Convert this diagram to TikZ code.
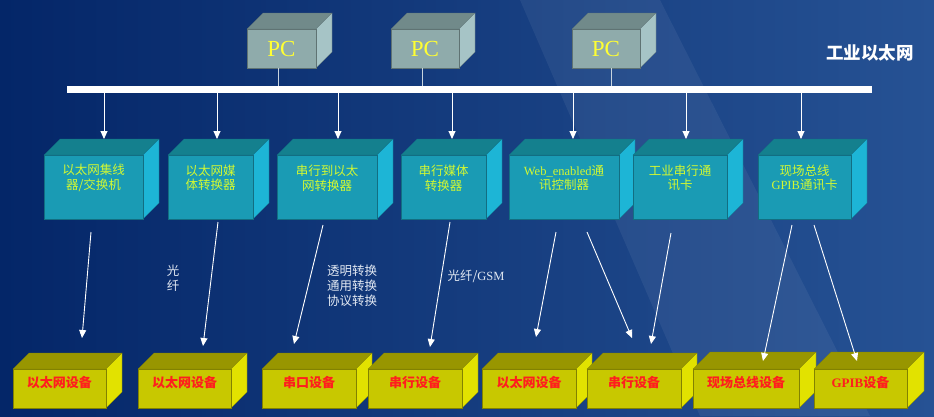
\documentclass[tikz,border=0pt]{standalone}
\usepackage{fontspec}
\setmainfont{Liberation Serif}
\newfontfamily\cjk{Noto Sans CJK SC}
\newfontfamily\lat{Liberation Serif}
\usetikzlibrary{arrows.meta,calc}
\definecolor{bgL}{RGB}{4,38,104}
\definecolor{bgR}{RGB}{38,82,148}
\definecolor{pcFront}{RGB}{143,171,171}
\definecolor{pcTop}{RGB}{113,138,138}
\definecolor{pcSide}{RGB}{166,196,198}
\definecolor{pcEdge}{RGB}{95,115,115}
\definecolor{blFront}{RGB}{26,155,180}
\definecolor{blTop}{RGB}{20,128,142}
\definecolor{blSide}{RGB}{29,181,214}
\definecolor{blEdge}{RGB}{18,110,130}
\definecolor{yeFront}{RGB}{200,200,0}
\definecolor{yeTop}{RGB}{152,150,0}
\definecolor{yeSide}{RGB}{226,226,0}
\definecolor{yeEdge}{RGB}{130,130,0}
\definecolor{btextcol}{RGB}{210,248,50}
\definecolor{redtext}{RGB}{255,30,30}
\definecolor{pctext}{RGB}{255,255,50}
\definecolor{labcol}{RGB}{225,232,242}
\newcommand\cubebox[7]{%
  \path[fill=#7Top, draw=#7Edge, line width=0.3pt] (#2,#3) -- (#2+#6,#3-#6) -- (#2+#4+#6,#3-#6) -- (#2+#4,#3) -- cycle;
  \path[fill=#7Side, draw=#7Edge, line width=0.3pt] (#2+#4,#3) -- (#2+#4+#6,#3-#6) -- (#2+#4+#6,#3+#5-#6) -- (#2+#4,#3+#5) -- cycle;
  \node[fill=#7Front, draw=#7Edge, line width=0.3pt, anchor=north west, minimum width=#4pt, minimum height=#5pt, inner sep=0pt, outer sep=0pt] (#1) at (#2,#3) {};%
}
\tikzset{
  arr/.style={draw=white, line width=0.9pt, -{Triangle[width=7pt,length=8pt]}},
  pcline/.style={draw={rgb,255:red,200;green,212;blue,222}, line width=1pt},
  btext/.style={font=\cjk\fontsize{12.5}{14.5}\selectfont, text=btextcol, align=center, inner sep=0pt},
  ytext/.style={font=\cjk\bfseries\fontsize{13}{15}\selectfont, text=redtext, inner sep=0pt},
  lab/.style={font=\cjk\fontsize{12.5}{14.8}\selectfont, text=labcol, align=center, inner sep=0pt},
  pctxt/.style={font=\lat\fontsize{23}{26}\selectfont, text=pctext, inner sep=0pt}
}
\begin{document}
\begin{tikzpicture}[x=1pt,y=-1pt]
\useasboundingbox (0,0) rectangle (934,416);
\shade[left color=bgL, right color=bgR] (0,0) rectangle (934,416);
\fill[white, opacity=0.06] (520,0) -- (660,0) -- (870,416) -- (700,416) -- cycle;

% PCs
\cubebox{pc1}{247}{29}{69}{39}{16}{pc}
\node[pctxt] (pc1t) at (pc1.center) {PC};
\cubebox{pc2}{391}{29}{68}{39}{16}{pc}
\node[pctxt] (pc2t) at (pc2.center) {PC};
\cubebox{pc3}{572}{29}{68}{39}{16}{pc}
\node[pctxt] (pc3t) at (pc3.center) {PC};

% bus
\node[fill=white, anchor=north west, minimum width=805pt, minimum height=7pt, inner sep=0pt, outer sep=0pt] (bus) at (67,86) {};
\node[font=\cjk\bfseries\fontsize{17.5}{20}\selectfont, text=white, inner sep=0pt] (eth) at (870,53) {工业以太网};

\coordinate (pl1) at ([xshift=-3.5pt]pc1.south);
\coordinate (pl2) at ([xshift=-3pt]pc2.south);
\coordinate (pl3) at ([xshift=5pt]pc3.south);
\draw[pcline] (pl1) -- (pl1 |- bus.north);
\draw[pcline] (pl2) -- (pl2 |- bus.north);
\draw[pcline] (pl3) -- (pl3 |- bus.north);

% blue boxes
\cubebox{b1}{44}{155}{99}{64}{16}{bl}
\node[btext] (b1t) at ([yshift=-23pt]b1.north) {以太网集线\\器/交换机};
\cubebox{b2}{168}{155}{85}{64}{16}{bl}
\node[btext] (b2t) at ([yshift=-23pt]b2.north) {以太网媒\\体转换器};
\cubebox{b3}{277}{155}{100}{64}{16}{bl}
\node[btext] (b3t) at ([yshift=-23pt]b3.north) {串行到以太\\网转换器};
\cubebox{b4}{401}{155}{85}{64}{16}{bl}
\node[btext] (b4t) at ([yshift=-23pt]b4.north) {串行媒体\\转换器};
\cubebox{b5}{509}{155}{110}{64}{16}{bl}
\node[btext] (b5t) at ([yshift=-23pt]b5.north) {{\lat Web\_enabled}通\\讯控制器};
\cubebox{b6}{633}{155}{94}{64}{16}{bl}
\node[btext] (b6t) at ([yshift=-23pt]b6.north) {工业串行通\\讯卡};
\cubebox{b7}{758}{155}{93}{64}{16}{bl}
\node[btext] (b7t) at ([yshift=-23pt]b7.north) {现场总线\\{\lat GPIB}通讯卡};

% bus arrows
\coordinate (ba1) at ([shift={(10.5pt,16pt)}]b1.north);
\coordinate (ba2) at ([shift={(6.5pt,16pt)}]b2.north);
\coordinate (ba3) at ([shift={(11pt,16pt)}]b3.north);
\coordinate (ba4) at ([shift={(8.5pt,16pt)}]b4.north);
\coordinate (ba5) at ([shift={(9pt,16pt)}]b5.north);
\coordinate (ba6) at ([shift={(6pt,16pt)}]b6.north);
\coordinate (ba7) at ([shift={(-3.5pt,16pt)}]b7.north);
\foreach \i in {1,...,7} {\draw[arr] (ba\i |- bus.south) -- (ba\i);}

% yellow boxes
\cubebox{y1}{13}{369}{93}{39}{16}{ye}
\node[ytext] (y1t) at ([yshift=5.5pt]y1.center) {以太网设备};
\cubebox{y2}{138}{369}{93}{39}{16}{ye}
\node[ytext] (y2t) at ([yshift=5.5pt]y2.center) {以太网设备};
\cubebox{y3}{262}{369}{94}{39}{16}{ye}
\node[ytext] (y3t) at ([yshift=5.5pt]y3.center) {串口设备};
\cubebox{y4}{368}{369}{94}{39}{16}{ye}
\node[ytext] (y4t) at ([yshift=5.5pt]y4.center) {串行设备};
\cubebox{y5}{482}{369}{94}{39}{16}{ye}
\node[ytext] (y5t) at ([yshift=5.5pt]y5.center) {以太网设备};
\cubebox{y6}{587}{369}{94}{39}{16}{ye}
\node[ytext] (y6t) at ([yshift=5.5pt]y6.center) {串行设备};
\cubebox{y7}{693}{369}{106}{39}{17}{ye}
\node[ytext] (y7t) at ([yshift=5.5pt]y7.center) {现场总线设备};
\cubebox{y8}{814}{369}{93}{39}{17}{ye}
\node[ytext] (y8t) at ([yshift=5.5pt]y8.center) {{\lat\bfseries GPIB}设备};

% lower arrows
\draw[arr] ([shift={(-2.5pt,-13pt)}]b1.south) -- ([shift={(22.5pt,31pt)}]y1.north);
\draw[arr] ([shift={(7.5pt,-3pt)}]b2.south) -- ([shift={(18.5pt,23pt)}]y2.north);
\draw[arr] ([shift={(-4pt,-6pt)}]b3.south) -- ([shift={(-15pt,25pt)}]y3.north);
\draw[arr] ([shift={(6.5pt,-3pt)}]b4.south) -- ([shift={(15pt,22pt)}]y4.north);
\draw[arr] ([shift={(-8pt,-13pt)}]b5.south) -- ([shift={(7pt,32pt)}]y5.north);
\draw[arr] ([shift={(23pt,-13pt)}]b5.south) -- ([shift={(-2pt,31pt)}]y6.north);
\draw[arr] ([shift={(-9pt,-14pt)}]b6.south) -- ([shift={(17pt,25pt)}]y6.north);
\draw[arr] ([shift={(-12.5pt,-6pt)}]b7.south) -- ([shift={(17pt,8pt)}]y7.north);
\draw[arr] ([shift={(9.5pt,-6pt)}]b7.south) -- ([shift={(-3.5pt,8pt)}]y8.north);

% labels
\node[lab] (l1) at (173,278.5) {光\\纤};
\node[lab] (l2) at (352,286) {透明转换\\通用转换\\协议转换};
\node[lab] (l3) at (476,276) {光纤/{\lat GSM}};
\end{tikzpicture}
\end{document}
